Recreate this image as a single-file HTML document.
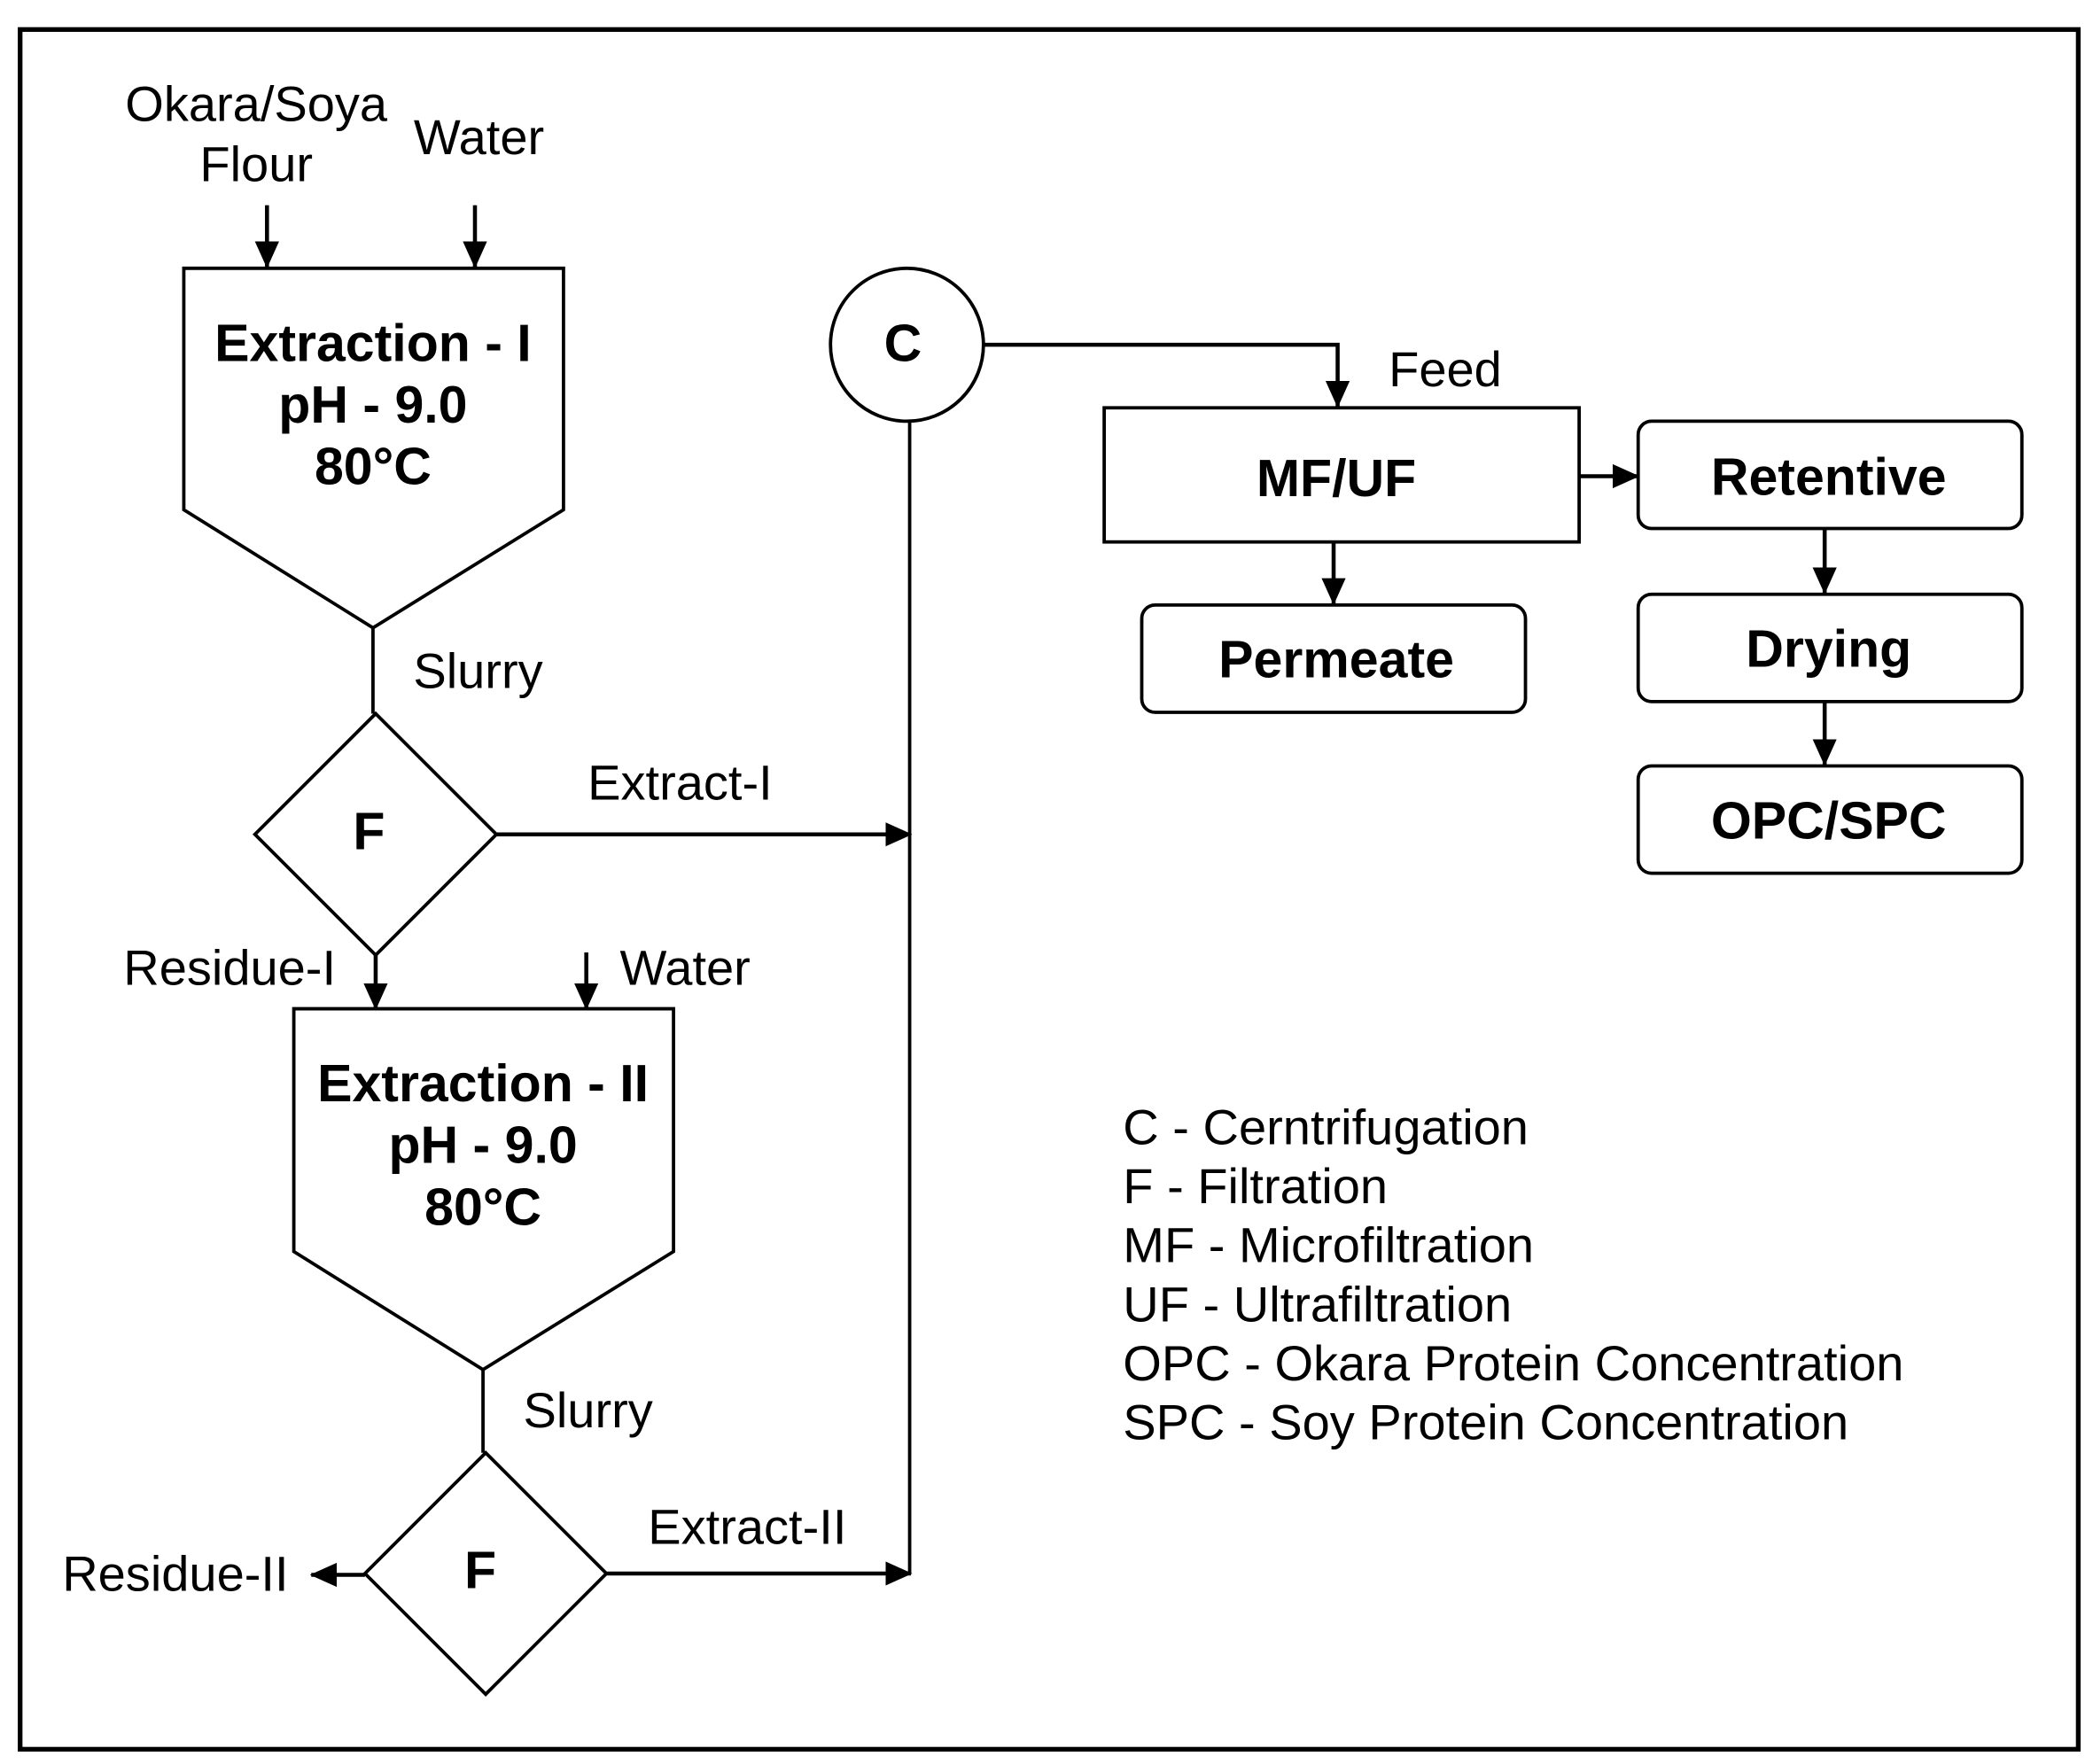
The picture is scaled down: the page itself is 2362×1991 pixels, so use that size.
<!DOCTYPE html>
<html><head><meta charset="utf-8"><style>
html,body{margin:0;padding:0;background:#fff;}
svg{display:block;}
text{font-family:"Liberation Sans",Arial,sans-serif;fill:#000;}
.b{font-weight:bold;font-size:39px;}
.r{font-size:37px;}
</style></head><body>
<svg width="2362" height="1991" viewBox="0 0 1560 1315" preserveAspectRatio="none" xmlns="http://www.w3.org/2000/svg">
<defs>
<marker id="m" markerWidth="20" markerHeight="18" refX="19" refY="9" orient="auto" markerUnits="userSpaceOnUse"><path d="M0,0 L20,9 L0,18 z" fill="#000"/></marker></defs>
<rect x="15" y="22" width="1534" height="1282" fill="none" stroke="#000" stroke-width="3.5"/>
<g fill="none" stroke="#000" stroke-width="2.5">
<polygon points="137,200 420,200 420,380 278,468 137,380"/>
<polygon points="219,752 502,752 502,933 360,1021 219,933"/>
<polygon points="280,532 370,622 280,712 190,622"/>
<polygon points="362,1083 452,1173 362,1263 272,1173"/>
<circle cx="676" cy="257" r="57"/>
<rect x="823" y="304" width="354" height="100"/>
<rect x="851" y="451" width="286" height="80" rx="10"/>
<rect x="1221" y="314" width="286" height="80" rx="10"/>
<rect x="1221" y="443" width="286" height="80" rx="10"/>
<rect x="1221" y="571" width="286" height="80" rx="10"/>
<line x1="278" y1="468" x2="278" y2="532"/>
<line x1="360" y1="1021" x2="360" y2="1083"/>
<line x1="678" y1="314" x2="678" y2="1173"/>
</g>
<g fill="none" stroke="#000" stroke-width="3" marker-end="url(#m)">
<line x1="199" y1="153" x2="199" y2="199"/>
<line x1="354" y1="153" x2="354" y2="199"/>
<line x1="370" y1="622" x2="679" y2="622"/>
<line x1="280" y1="712" x2="280" y2="752"/>
<line x1="437" y1="710" x2="437" y2="752"/>
<line x1="452" y1="1173" x2="679" y2="1173"/>
<line x1="272" y1="1174" x2="232" y2="1174"/>
<polyline points="733,257 997,257 997,303"/>
<line x1="1177" y1="355" x2="1221" y2="355"/>
<line x1="994" y1="404" x2="994" y2="450"/>
<line x1="1360" y1="394" x2="1360" y2="442"/>
<line x1="1360" y1="523" x2="1360" y2="570"/>
</g>
<g text-anchor="middle" class="b">
<text x="278" y="269">Extraction - I</text>
<text x="278" y="315">pH - 9.0</text>
<text x="278" y="361">80°C</text>
<text x="360" y="821">Extraction - II</text>
<text x="360" y="867">pH - 9.0</text>
<text x="360" y="913">80°C</text>
<text x="275" y="633">F</text>
<text x="358" y="1184">F</text>
<text x="673" y="269">C</text>
<text x="996" y="370">MF/UF</text>
<text x="996" y="505">Permeate</text>
<text x="1363" y="369">Retentive</text>
<text x="1363" y="497">Drying</text>
<text x="1363" y="625">OPC/SPC</text>
</g>
<g class="r">
<text x="191" y="90" text-anchor="middle">Okara/Soya</text>
<text x="191" y="135" text-anchor="middle">Flour</text>
<text x="357" y="115" text-anchor="middle">Water</text>
<text x="308" y="513">Slurry</text>
<text x="438" y="596">Extract-I</text>
<text x="92" y="734">Residue-I</text>
<text x="462" y="734">Water</text>
<text x="390" y="1064">Slurry</text>
<text x="483" y="1151">Extract-II</text>
<text x="215" y="1186" text-anchor="end">Residue-II</text>
<text x="1035" y="288">Feed</text>
<text x="837" y="853">C - Cerntrifugation</text>
<text x="837" y="897">F - Filtration</text>
<text x="837" y="941">MF - Microfiltration</text>
<text x="837" y="985">UF - Ultrafiltration</text>
<text x="837" y="1029">OPC - Okara Protein Concentration</text>
<text x="837" y="1073">SPC - Soy Protein Concentration</text>
</g>
</svg>
</body></html>
